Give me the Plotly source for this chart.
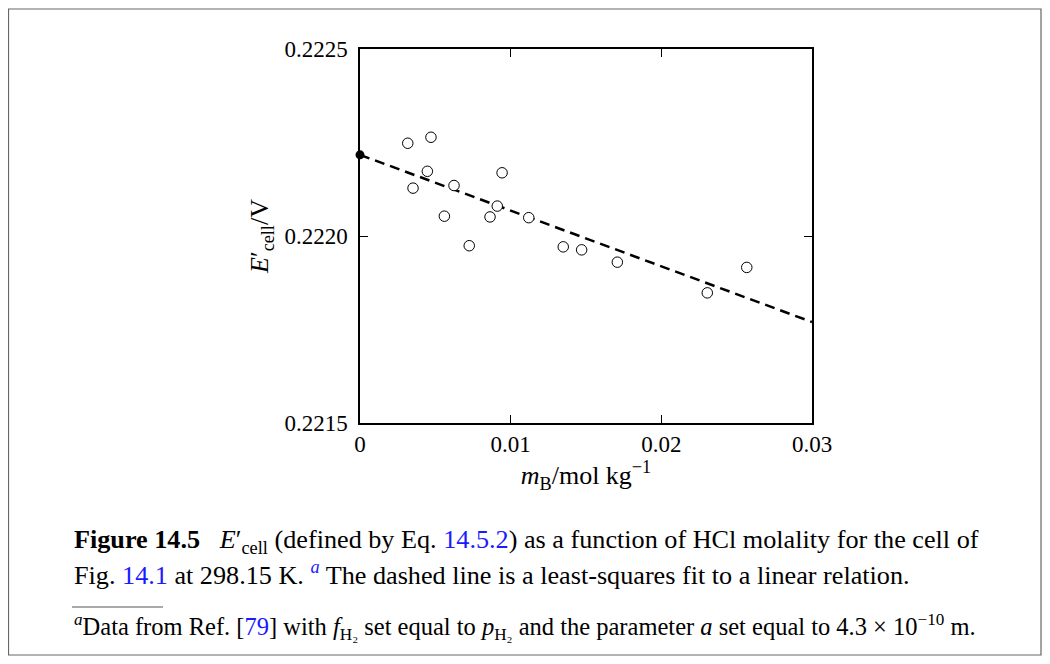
import plotly.graph_objects as go

# ---- data ----
molality = [0.00317, 0.00471, 0.00447, 0.00352, 0.00624, 0.00943, 0.00560, 0.00911,
            0.00863, 0.01120, 0.00725, 0.01349, 0.01471, 0.01708, 0.02305, 0.02567]
e_cell = [0.222248, 0.222264, 0.222173, 0.222128, 0.222135, 0.222169, 0.222053, 0.222080,
          0.222051, 0.222049, 0.221974, 0.221971, 0.221963, 0.221930, 0.221848, 0.221916]
fit_intercept = 0.222217
fit_slope = -0.0149
fit_x = [0.0, 0.03]
x_ticks = [0, 0.01, 0.02, 0.03]
x_ticklabels = ["0", "0.01", "0.02", "0.03"]
y_ticks = [0.2215, 0.2220, 0.2225]
y_ticklabels = ["0.2215", "0.2220", "0.2225"]

fit_y = [fit_intercept + fit_slope * x for x in fit_x]

SERIF = "Liberation Serif"
OFF = 8  # browser body margin
W, H = 1050 - OFF, 664 - OFF
# plot box in screenshot pixels
SL, SR, ST, SB = 360, 812, 49, 423
L, R, T, B = SL - OFF, SR - OFF, ST - OFF, SB - OFF


def px(x):
    """screenshot x pixel -> paper"""
    return (x - SL) / (SR - SL)


def py(y):
    """screenshot y pixel -> paper"""
    return (SB - y) / (SB - ST)


fig = go.Figure()
fig.add_trace(go.Scatter(x=fit_x, y=fit_y, mode="lines",
                         line=dict(color="black", width=2.5, dash="10px,6px"),
                         showlegend=False, hoverinfo="skip"))
fig.add_trace(go.Scatter(x=molality, y=e_cell, mode="markers",
                         marker=dict(symbol="circle", size=10.5, color="white",
                                     line=dict(color="black", width=1)),
                         showlegend=False, cliponaxis=False))
fig.add_trace(go.Scatter(x=[fit_x[0]], y=[fit_intercept], mode="markers",
                         marker=dict(symbol="circle", size=9, color="black"),
                         showlegend=False, cliponaxis=False))

axis_common = dict(showgrid=False, zeroline=False, showline=True, linecolor="black",
                   linewidth=1.5, ticks="inside", ticklen=8, tickwidth=1.2,
                   tickcolor="black", mirror="ticks",
                   tickfont=dict(family=SERIF, size=23, color="black"),
                   automargin=False)

fig.update_xaxes(range=[0, 0.03], tickvals=x_ticks, ticktext=x_ticklabels,
                 title=dict(text="<i>m</i><sub>B</sub>/mol kg<sup>−1</sup>",
                            font=dict(family=SERIF, size=26, color="black"),
                            standoff=8),
                 **axis_common)
fig.update_yaxes(range=[0.2215, 0.2225], tickvals=y_ticks, ticktext=y_ticklabels,
                 ticklabelstandoff=6,
                 title=dict(text="<i>E</i>′<sub>cell</sub>/V",
                            font=dict(family=SERIF, size=26, color="black"),
                            standoff=8),
                 **axis_common)

BLUE = "#1a1aff"
cap_font = dict(family=SERIF, size=26.2, color="black")
line1 = ("<b>Figure 14.5</b>   <i>E</i>′<sub>cell</sub> (defined by Eq. "
         f"<span style='color:{BLUE}'>14.5.2</span>) as a function of HCl molality for the cell of")
line2 = (f"Fig. <span style='color:{BLUE}'>14.1</span> at 298.15 K. "
         f"<sup><i><span style='color:{BLUE}'>a</span></i></sup> The dashed line is a least-squares fit to a linear relation.")
foot = ("<sup><i>a</i></sup>Data from Ref. "
        f"[<span style='color:{BLUE}'>79</span>] with <i>f</i><sub>H₂</sub> set equal to "
        "<i>p</i><sub>H₂</sub> and the parameter <i>a</i> set equal to 4.3 × 10<sup>−10</sup> m.")

annotations = [
    dict(text=line1, x=px(72), y=py(541), xref="paper", yref="paper",
         xanchor="left", yanchor="middle", showarrow=False, font=cap_font),
    dict(text=line2, x=px(72), y=py(573), xref="paper", yref="paper",
         xanchor="left", yanchor="middle", showarrow=False, font=cap_font),
    dict(text=foot, x=px(72), y=py(627), xref="paper", yref="paper",
         xanchor="left", yanchor="middle", showarrow=False,
         font=dict(family=SERIF, size=24.5, color="black")),
]

shapes = [
    dict(type="rect", xref="paper", yref="paper", x0=px(8.5), x1=px(1041),
         y0=py(9), y1=py(655), line=dict(color="#666666", width=1.2)),
    dict(type="line", xref="paper", yref="paper", x0=px(72), x1=px(163),
         y0=py(607), y1=py(607), line=dict(color="#555555", width=1)),
]

fig.update_layout(width=W, height=H, autosize=False,
                  margin=dict(l=L, r=W - R, t=T, b=H - B, pad=0),
                  paper_bgcolor="white", plot_bgcolor="white",
                  annotations=annotations, shapes=shapes)

fig.write_html("out.html")
